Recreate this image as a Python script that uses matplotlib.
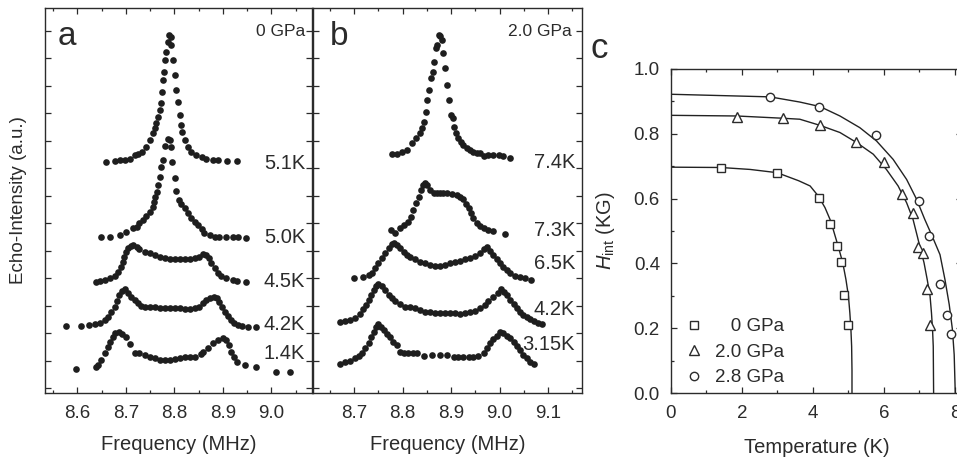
import matplotlib
matplotlib.use('Agg')
import matplotlib.pyplot as plt
from matplotlib.ticker import MultipleLocator, NullFormatter

plt.rcParams['font.family'] = ['Liberation Sans', 'DejaVu Sans']
plt.rcParams['mathtext.fontset'] = 'custom'
plt.rcParams['mathtext.rm'] = 'Liberation Sans'
plt.rcParams['mathtext.it'] = 'Liberation Sans:italic'

INK = '#2b2b2b'

# ---- panel a: 0 GPa spectra (frequency in MHz, echo intensity in a.u. incl. offset)
f_a_51 = [8.658, 8.677, 8.687, 8.698, 8.708, 8.718, 8.725, 8.734, 8.742, 8.750, 8.756, 8.759, 8.763, 8.766,
          8.770, 8.772, 8.775, 8.777, 8.779, 8.781, 8.783, 8.786, 8.788, 8.792, 8.794, 8.797, 8.801, 8.804,
          8.807, 8.811, 8.814, 8.816, 8.821, 8.828, 8.835, 8.845, 8.856, 8.866, 8.880, 8.890, 8.909, 8.929]
i_a_51 = [8.23, 8.27, 8.29, 8.29, 8.32, 8.46, 8.51, 8.59, 8.78, 9.02, 9.26, 9.44, 9.62, 9.87,
          10.11, 10.35, 10.78, 11.20, 11.50, 11.93, 12.23, 12.59, 12.84, 12.78, 12.47, 11.93, 11.38, 10.84,
          10.41, 9.93, 9.56, 9.32, 9.02, 8.78, 8.59, 8.47, 8.39, 8.33, 8.29, 8.29, 8.25, 8.24]

f_a_50 = [8.649, 8.667, 8.687, 8.701, 8.715, 8.722, 8.728, 8.735, 8.742, 8.749, 8.755, 8.758, 8.761, 8.764,
          8.767, 8.770, 8.773, 8.777, 8.781, 8.786, 8.790, 8.794, 8.796, 8.801, 8.804, 8.809, 8.814, 8.821,
          8.828, 8.835, 8.842, 8.849, 8.856, 8.862, 8.873, 8.883, 8.893, 8.907, 8.921, 8.931, 8.948]
i_a_50 = [5.48, 5.48, 5.56, 5.68, 5.81, 5.87, 5.99, 6.11, 6.25, 6.41, 6.59, 6.78, 6.96, 7.14,
          7.38, 7.68, 8.05, 8.29, 8.81, 9.04, 9.02, 8.78, 8.23, 7.62, 7.18, 6.84, 6.69, 6.53,
          6.35, 6.17, 6.05, 5.93, 5.77, 5.65, 5.56, 5.50, 5.50, 5.48, 5.48, 5.48, 5.44]

f_a_45 = [8.639, 8.646, 8.656, 8.667, 8.677, 8.684, 8.689, 8.693, 8.696, 8.700, 8.704, 8.710, 8.715, 8.722,
          8.728, 8.739, 8.749, 8.759, 8.770, 8.780, 8.790, 8.801, 8.811, 8.821, 8.832, 8.842, 8.851, 8.859,
          8.866, 8.871, 8.876, 8.883, 8.890, 8.897, 8.907, 8.921, 8.929, 8.948]
i_a_45 = [3.87, 3.89, 3.93, 3.99, 4.07, 4.23, 4.41, 4.59, 4.78, 4.96, 5.08, 5.18, 5.20, 5.12,
          5.04, 4.96, 4.90, 4.84, 4.78, 4.74, 4.70, 4.68, 4.68, 4.68, 4.68, 4.72, 4.78, 4.87,
          4.84, 4.72, 4.53, 4.35, 4.19, 4.07, 3.99, 3.93, 3.89, 3.84]

f_a_42 = [8.577, 8.608, 8.624, 8.636, 8.646, 8.656, 8.663, 8.670, 8.677, 8.682, 8.686, 8.691, 8.698, 8.704,
          8.711, 8.718, 8.725, 8.732, 8.739, 8.749, 8.759, 8.770, 8.780, 8.790, 8.801, 8.811, 8.821, 8.832,
          8.842, 8.851, 8.859, 8.866, 8.873, 8.881, 8.888, 8.893, 8.899, 8.904, 8.911, 8.917, 8.924, 8.931,
          8.940, 8.952, 8.969]
i_a_42 = [2.25, 2.25, 2.29, 2.32, 2.38, 2.47, 2.59, 2.78, 2.96, 3.18, 3.38, 3.54, 3.59, 3.44,
          3.32, 3.20, 3.10, 2.98, 2.93, 2.93, 2.93, 2.92, 2.92, 2.91, 2.90, 2.90, 2.88, 2.88,
          2.90, 2.96, 3.08, 3.20, 3.26, 3.32, 3.26, 3.14, 2.96, 2.78, 2.62, 2.47, 2.38, 2.29,
          2.25, 2.23, 2.23]

f_a_14 = [8.598, 8.638, 8.643, 8.649, 8.656, 8.663, 8.667, 8.673, 8.678, 8.686, 8.691, 8.700, 8.708, 8.718,
          8.728, 8.739, 8.749, 8.759, 8.770, 8.780, 8.790, 8.801, 8.811, 8.821, 8.832, 8.842, 8.854, 8.859,
          8.869, 8.880, 8.890, 8.900, 8.906, 8.913, 8.917, 8.924, 8.929, 8.945, 8.969, 9.010, 9.039]
i_a_14 = [0.68, 0.78, 0.84, 1.02, 1.26, 1.50, 1.68, 1.87, 1.99, 2.05, 1.96, 1.87, 1.59, 1.28,
          1.26, 1.20, 1.14, 1.08, 1.02, 1.02, 1.02, 1.04, 1.08, 1.14, 1.14, 1.14, 1.24, 1.32,
          1.44, 1.62, 1.75, 1.81, 1.75, 1.56, 1.32, 1.14, 0.96, 0.84, 0.75, 0.59, 0.59]

temps_a = ['5.1K', '5.0K', '4.5K', '4.2K', '1.4K']
freqs_a = [f_a_51, f_a_50, f_a_45, f_a_42, f_a_14]
ints_a = [i_a_51, i_a_50, i_a_45, i_a_42, i_a_14]

# ---- panel b: 2.0 GPa spectra
f_b_74 = [8.778, 8.788, 8.798, 8.809, 8.819, 8.828, 8.835, 8.840, 8.843, 8.848, 8.851, 8.855, 8.859, 8.862,
          8.865, 8.868, 8.870, 8.874, 8.877, 8.881, 8.884, 8.888, 8.891, 8.895, 8.899, 8.903, 8.906, 8.910,
          8.915, 8.920, 8.925, 8.932, 8.939, 8.946, 8.953, 8.960, 8.967, 8.977, 8.987, 8.998, 9.008, 9.022]
i_b_74 = [8.50, 8.51, 8.59, 8.65, 8.90, 9.08, 9.26, 9.44, 9.68, 10.05, 10.47, 10.84, 11.26, 11.50,
          11.87, 12.35, 12.47, 12.84, 12.80, 12.65, 12.17, 11.62, 11.02, 10.47, 9.93, 9.81, 9.50, 9.26,
          9.08, 8.96, 8.84, 8.72, 8.65, 8.59, 8.53, 8.53, 8.44, 8.47, 8.47, 8.47, 8.44, 8.35]

f_b_73 = [8.776, 8.785, 8.795, 8.803, 8.810, 8.817, 8.822, 8.828, 8.833, 8.837, 8.842, 8.846, 8.851, 8.857,
          8.864, 8.870, 8.877, 8.884, 8.891, 8.901, 8.912, 8.919, 8.925, 8.931, 8.936, 8.941, 8.946, 8.953,
          8.960, 8.967, 8.977, 8.987, 9.011]
i_b_73 = [5.75, 5.62, 5.81, 5.93, 6.05, 6.23, 6.47, 6.72, 6.96, 7.20, 7.38, 7.47, 7.38, 7.20,
          7.10, 7.08, 7.08, 7.10, 7.08, 7.05, 7.02, 6.96, 6.86, 6.69, 6.53, 6.35, 6.17, 5.99,
          5.89, 5.81, 5.75, 5.71, 5.60]

f_b_65 = [8.699, 8.719, 8.730, 8.736, 8.743, 8.750, 8.757, 8.764, 8.771, 8.778, 8.782, 8.788, 8.795, 8.802,
          8.809, 8.815, 8.826, 8.836, 8.846, 8.857, 8.867, 8.877, 8.888, 8.898, 8.908, 8.919, 8.929, 8.939,
          8.949, 8.960, 8.968, 8.975, 8.980, 8.987, 8.994, 9.001, 9.008, 9.015, 9.022, 9.032, 9.042, 9.053,
          9.064]
i_b_65 = [3.99, 4.05, 4.11, 4.19, 4.35, 4.53, 4.72, 4.90, 5.08, 5.24, 5.28, 5.20, 5.08, 4.96,
          4.84, 4.75, 4.68, 4.59, 4.53, 4.47, 4.44, 4.44, 4.47, 4.53, 4.59, 4.63, 4.68, 4.72,
          4.80, 4.92, 5.04, 5.12, 4.99, 4.84, 4.68, 4.53, 4.41, 4.29, 4.17, 4.08, 4.05, 3.99,
          3.93]

f_b_42 = [8.670, 8.681, 8.692, 8.702, 8.712, 8.719, 8.725, 8.730, 8.734, 8.740, 8.745, 8.750, 8.757, 8.764,
          8.771, 8.778, 8.785, 8.795, 8.805, 8.815, 8.826, 8.836, 8.846, 8.857, 8.867, 8.877, 8.888, 8.898,
          8.908, 8.919, 8.929, 8.939, 8.949, 8.960, 8.970, 8.977, 8.987, 8.996, 9.002, 9.009, 9.015, 9.022,
          9.029, 9.035, 9.042, 9.049, 9.056, 9.063, 9.071, 9.080, 9.087]
i_b_42 = [2.41, 2.45, 2.47, 2.53, 2.69, 2.86, 3.02, 3.20, 3.38, 3.56, 3.71, 3.78, 3.71, 3.56,
          3.38, 3.26, 3.18, 3.05, 2.96, 2.93, 2.90, 2.84, 2.78, 2.75, 2.74, 2.72, 2.72, 2.72,
          2.72, 2.69, 2.72, 2.78, 2.81, 2.90, 3.02, 3.16, 3.32, 3.44, 3.59, 3.50, 3.38, 3.20,
          3.05, 2.90, 2.78, 2.65, 2.57, 2.50, 2.45, 2.38, 2.33]

f_b_315 = [8.670, 8.681, 8.692, 8.702, 8.709, 8.716, 8.723, 8.730, 8.734, 8.740, 8.745, 8.750, 8.755, 8.761,
           8.767, 8.774, 8.781, 8.788, 8.795, 8.803, 8.812, 8.822, 8.829, 8.843, 8.860, 8.877, 8.891, 8.905,
           8.915, 8.925, 8.936, 8.946, 8.956, 8.967, 8.974, 8.980, 8.987, 8.994, 9.001, 9.008, 9.015, 9.022,
           9.029, 9.035, 9.042, 9.049, 9.056, 9.063, 9.070]
i_b_315 = [0.87, 0.96, 0.99, 1.08, 1.16, 1.28, 1.44, 1.62, 1.84, 2.05, 2.21, 2.32, 2.23, 2.11,
           1.96, 1.84, 1.68, 1.56, 1.32, 1.26, 1.26, 1.26, 1.28, 1.16, 1.20, 1.20, 1.20, 1.14,
           1.12, 1.12, 1.12, 1.14, 1.16, 1.28, 1.44, 1.62, 1.77, 1.89, 2.05, 1.99, 1.89, 1.81,
           1.68, 1.53, 1.38, 1.20, 1.08, 0.96, 0.87]

temps_b = ['7.4K', '7.3K', '6.5K', '4.2K', '3.15K']
freqs_b = [f_b_74, f_b_73, f_b_65, f_b_42, f_b_315]
ints_b = [i_b_74, i_b_73, i_b_65, i_b_42, i_b_315]

# ---- panel c: internal field vs temperature
pressures = ['   0 GPa', '2.0 GPa', '2.8 GPa']
t_0 = [1.40, 2.99, 4.18, 4.49, 4.69, 4.78, 4.88, 4.98]
h_0 = [0.693, 0.679, 0.602, 0.523, 0.453, 0.404, 0.303, 0.211]
t_20 = [1.85, 3.15, 4.20, 5.21, 6.00, 6.50, 6.81, 6.97, 7.09, 7.22, 7.30]
h_20 = [0.853, 0.848, 0.826, 0.775, 0.714, 0.615, 0.555, 0.451, 0.433, 0.321, 0.211]
t_28 = [2.79, 4.18, 5.77, 7.00, 7.28, 7.58, 7.78, 7.88]
h_28 = [0.914, 0.884, 0.795, 0.594, 0.484, 0.335, 0.242, 0.183]

# fitted curves
fit_t_0 = [0.0, 1.40, 2.23, 2.99, 3.60, 3.92, 4.15, 4.34, 4.48, 4.57, 4.71, 4.84, 4.93, 5.00, 5.04, 5.07,
           5.09, 5.10, 5.10]
fit_h_0 = [0.697, 0.696, 0.690, 0.680, 0.655, 0.639, 0.608, 0.572, 0.536, 0.505, 0.453, 0.402, 0.350,
           0.299, 0.247, 0.196, 0.144, 0.070, 0.0]
fit_t_20 = [0.0, 1.85, 3.15, 3.63, 4.20, 4.76, 5.23, 5.70, 6.07, 6.40, 6.64, 6.82, 6.94, 7.01, 7.13, 7.22,
            7.30, 7.34, 7.37, 7.39, 7.40]
fit_h_20 = [0.857, 0.855, 0.848, 0.845, 0.826, 0.804, 0.773, 0.737, 0.690, 0.639, 0.587, 0.536, 0.484,
            0.453, 0.402, 0.350, 0.299, 0.247, 0.196, 0.144, 0.0]
fit_t_28 = [0.0, 2.79, 3.63, 4.20, 4.76, 5.32, 5.79, 6.26, 6.64, 6.92, 7.15, 7.36, 7.58, 7.72, 7.84, 7.93,
            7.98, 8.01]
fit_h_28 = [0.922, 0.914, 0.898, 0.884, 0.855, 0.819, 0.778, 0.721, 0.659, 0.598, 0.536, 0.484, 0.427,
            0.350, 0.273, 0.196, 0.118, 0.0]

W, H = 957, 459
fig = plt.figure(figsize=(W / 100, H / 100), dpi=100)


def px_axes(left, top, right, bottom):
    return fig.add_axes([left / W, 1 - bottom / H, (right - left) / W, (bottom - top) / H])


def style_spectrum_axes(ax, xlim):
    ax.set_xlim(*xlim)
    ax.set_ylim(-0.18, 13.82)
    ax.xaxis.set_major_locator(MultipleLocator(0.1))
    ax.xaxis.set_minor_locator(MultipleLocator(0.05))
    ax.yaxis.set_major_locator(MultipleLocator(1))
    ax.yaxis.set_major_formatter(NullFormatter())
    ax.tick_params(which='both', direction='in', top=True, right=True, colors=INK,
                   labelsize=13.5, pad=9)
    ax.tick_params(which='major', length=4, width=0.9)
    ax.tick_params(which='minor', length=2.5, width=0.9)
    for s in ax.spines.values():
        s.set_color(INK)
        s.set_linewidth(1.0)
    ax.set_xlabel('Frequency (MHz)', fontsize=14.5, color=INK)
    ax.xaxis.set_label_coords(0.5, -0.108)


def draw_spectra(ax, freqs, ints, temps, label_y):
    for f, v in zip(freqs, ints):
        ax.plot(f, v, 'o', ms=4.8, color='#1e1e1e', mec='none')
    for t, y in zip(temps, label_y):
        ax.text(0.974, y, t, transform=ax.transAxes, ha='right', va='center',
                fontsize=14.5, color=INK)


# panel a
ax_a = px_axes(45, 8, 312, 393)
style_spectrum_axes(ax_a, (8.533, 9.084))
draw_spectra(ax_a, freqs_a, ints_a, temps_a, [0.597, 0.405, 0.289, 0.177, 0.103])
ax_a.set_ylabel('Echo-Intensity (a.u.)', fontsize=13.5, color=INK)
ax_a.yaxis.set_label_coords(-0.067, 0.5)
ax_a.text(0.049, 0.904, 'a', transform=ax_a.transAxes, fontsize=24, color=INK, va='baseline')
ax_a.text(0.974, 0.938, '0 GPa', transform=ax_a.transAxes, ha='right', va='center',
          fontsize=12.5, color=INK)

# panel b
ax_b = px_axes(313, 8, 582, 393)
style_spectrum_axes(ax_b, (8.615, 9.170))
draw_spectra(ax_b, freqs_b, ints_b, temps_b, [0.598, 0.423, 0.337, 0.218, 0.126])
ax_b.text(0.063, 0.904, 'b', transform=ax_b.transAxes, fontsize=24, color=INK, va='baseline')
ax_b.text(0.963, 0.938, '2.0 GPa', transform=ax_b.transAxes, ha='right', va='center',
          fontsize=12.5, color=INK)

# panel c
ax_c = px_axes(671, 69, 962, 393)
ax_c.set_xlim(0, 8.2)
ax_c.set_ylim(0, 1.0)
ax_c.xaxis.set_major_locator(MultipleLocator(2))
ax_c.xaxis.set_minor_locator(MultipleLocator(1))
ax_c.yaxis.set_major_locator(MultipleLocator(0.2))
ax_c.yaxis.set_minor_locator(MultipleLocator(0.1))
ax_c.yaxis.set_major_formatter(plt.FuncFormatter(lambda v, p: f'{v:.1f}'))
ax_c.tick_params(which='both', direction='in', top=True, right=True, colors=INK, labelsize=13.5)
ax_c.tick_params(axis='x', pad=9)
ax_c.tick_params(axis='y', pad=8)
ax_c.tick_params(which='major', length=4, width=0.9)
ax_c.tick_params(which='minor', length=2.5, width=0.9)
for s in ax_c.spines.values():
    s.set_color(INK)
    s.set_linewidth(1.0)

ax_c.plot(fit_t_0, fit_h_0, '-', color='#222222', lw=1.0)
ax_c.plot(fit_t_20, fit_h_20, '-', color='#222222', lw=1.0)
ax_c.plot(fit_t_28, fit_h_28, '-', color='#222222', lw=1.0)
ax_c.plot(t_0, h_0, 's', ms=5.7, mfc='white', mec=INK, mew=1.0, ls='none', label=pressures[0])
ax_c.plot(t_20, h_20, '^', ms=7.5, mfc='white', mec=INK, mew=1.0, ls='none', label=pressures[1])
ax_c.plot(t_28, h_28, 'o', ms=6, mfc='white', mec=INK, mew=1.0, ls='none', label=pressures[2])
leg = ax_c.legend(loc='lower left', bbox_to_anchor=(0.0, -0.02), frameon=False, fontsize=13.5,
                  handlelength=1.0, handletextpad=0.65, labelspacing=0.45, borderpad=0.2)
for t in leg.get_texts():
    t.set_color(INK)

ax_c.set_xlabel('Temperature (K)', fontsize=14.5, color=INK)
ax_c.xaxis.set_label_coords(0.5, -0.14)
ax_c.set_ylabel(r'$H_{\mathrm{int}}$ (KG)', fontsize=14.5, color=INK)
ax_c.yaxis.set_label_coords(-0.186, 0.5)
fig.text(590 / W, 1 - 58 / H, 'c', fontsize=25, color=INK, va='baseline')

fig.savefig('out.png', dpi=100)
